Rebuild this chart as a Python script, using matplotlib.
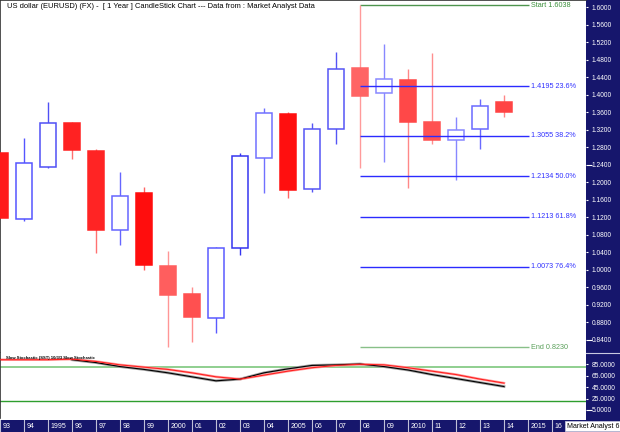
import matplotlib
matplotlib.use('Agg')
import matplotlib.pyplot as plt
from matplotlib.patches import Rectangle
from matplotlib.lines import Line2D
from matplotlib.colors import to_rgb

plt.rcParams['font.family'] = ['Liberation Sans', 'DejaVu Sans']

# yearly EURUSD candles
years = list(range(1993, 2015))
opens = [1.267, 1.116, 1.235, 1.336, 1.272, 1.091, 1.175, 1.009, 0.945, 0.889, 1.049,
         1.255, 1.355, 1.185, 1.321, 1.460, 1.403, 1.433, 1.338, 1.296, 1.321, 1.382]
highs = [1.267, 1.300, 1.382, 1.337, 1.276, 1.224, 1.190, 1.042, 0.960, 1.051, 1.266,
         1.369, 1.360, 1.336, 1.498, 1.6038, 1.5155, 1.458, 1.496, 1.349, 1.390, 1.399]
lows = [1.118, 1.111, 1.232, 1.252, 1.039, 1.057, 1.000, 0.824, 0.836, 0.856, 1.034,
        1.175, 1.163, 1.178, 1.287, 1.233, 1.245, 1.1875, 1.2865, 1.205, 1.275, 1.348]
closes = [1.118, 1.2445, 1.3345, 1.2735, 1.091, 1.1685, 1.010, 0.942, 0.8915, 1.0505, 1.2605,
          1.357, 1.182, 1.321, 1.458, 1.396, 1.435, 1.337, 1.296, 1.319, 1.375, 1.360]
candle_colors = ['#FF1A1A', '#5555FF', '#5050F5', '#FF2222', '#FF2424', '#6666FF', '#FF0D0D',
                 '#FF5E5E', '#FF5050', '#5A5AFF', '#3535F0', '#7070FF', '#FF0F0F', '#5555F5',
                 '#5555F5', '#FF6464', '#8888FF', '#FF4848', '#FF5252', '#8888FF', '#6A6AFF',
                 '#FF4444']

# Fibonacci retracement from the 2008 high to the 2000 low
fib_start_year = 2008
fib_start = 1.6038
fib_end = 0.8230
fib_levels = [1.4195, 1.3055, 1.2134, 1.1213, 1.0073]
fib_pcts = ['23.6%', '38.2%', '50.0%', '61.8%', '76.4%']

# slow stochastic
stoch_d_years = list(range(1993, 2015))
stoch_d = [93, 93, 93, 94, 90, 84, 80, 76, 70, 63, 59, 66, 73, 79, 83, 85, 84, 79, 73, 67, 59, 52]
stoch_k_years = list(range(1996, 2015))
stoch_k = [93, 88, 81, 76, 70, 63, 56, 59, 70, 77, 83, 84, 85.5, 81, 75, 67, 60, 53, 46]

price_ticks = [1.60 - 0.04 * i for i in range(20)]
stoch_ticks = [85, 65, 45, 25, 5]
year_labels = ['93', '94', '1995', '96', '97', '98', '99', '2000', '01', '02', '03', '04',
               '2005', '06', '07', '08', '09', '2010', '11', '12', '13', '14', '2015', '16']

W, H = 620, 432
NAVY = '#16166C'
px = 24.0  # pixels per year

fig = plt.figure(figsize=(W / 100, H / 100), dpi=100)
fig.patch.set_facecolor('white')
fig.patches.append(Rectangle((586 / W, 0), 1 - 586 / W, 1, transform=fig.transFigure,
                             facecolor=NAVY, edgecolor='none', zorder=-5))

x0 = years[0]
x1 = x0 + 586 / px

# ---- main candle panel
ax = fig.add_axes([0, 1 - 352 / H, 586 / W, 352 / H])
ax.set_xlim(x0, x1)
ax.set_ylim(0.8123, 1.616)

def lighten(c, f):
    r, g, b = to_rgb(c)
    return (r + (1 - r) * f, g + (1 - g) * f, b + (1 - b) * f)

up = [c >= o for o, c in zip(opens, closes)]
wick_cols = [col if u else lighten(col, 0.35) for col, u in zip(candle_colors, up)]
faces = ['white' if u else col for col, u in zip(candle_colors, up)]
ax.vlines(years, lows, highs, colors=wick_cols, lw=1.0, zorder=2)
ax.bar(years, [c - o for o, c in zip(opens, closes)], bottom=opens, width=0.66,
       color=faces, edgecolor=candle_colors, lw=1.1, zorder=3)

line_end = 2015.05
ax.hlines(fib_levels, fib_start_year, line_end, colors='#2B2BFF', lw=1.0, zorder=4)
ax.hlines([fib_start], fib_start_year, line_end, colors='#4E944E', lw=1.0, zorder=1)
ax.hlines([fib_end], fib_start_year, line_end, colors='#88C088', lw=1.0, zorder=1)
for v, p in zip(fib_levels, fib_pcts):
    ax.text(line_end + 0.08, v, f'{v:.4f} {p}', color='#3030FF', fontsize=5.2, va='center')
ax.text(line_end + 0.08, fib_start, f'Start {fib_start:.4f}', color='#3C903C', fontsize=5.2, va='center')
ax.text(line_end + 0.08, fib_end, f'End {fib_end:.4f}', color='#5AA05A', fontsize=5.2, va='center')

ax.yaxis.tick_right()
ax.set_yticks(price_ticks)
ax.set_yticklabels([f'{t:.4f}' for t in price_ticks])
ax.tick_params(axis='y', colors='white', labelsize=4.8, length=1.5, pad=2.5, width=0.8)
ax.set_xticks([])
for t in ax.yaxis.get_major_ticks():
    if abs(t.get_loc() - 1.24) < 1e-6 or abs(t.get_loc() - 0.84) < 1e-6:
        t.tick2line.set_markersize(4.5)
for s in ['left', 'top']:
    ax.spines[s].set_color('#333333')
    ax.spines[s].set_linewidth(1.2)
for s in ['right', 'bottom']:
    ax.spines[s].set_visible(False)

fig.text(7 / W, 1 - 7 / H,
         'US dollar (EURUSD) (FX) -  [ 1 Year ] CandleStick Chart --- Data from : Market Analyst Data',
         fontsize=5.4, va='center', ha='left')

# ---- stochastic panel
ax2 = fig.add_axes([0, 1 - 418 / H, 586 / W, 65 / H])
ax2.set_xlim(x0, x1)
ax2.set_ylim(-9.2, 104.8)
ax2.axhline(80, color='#8FCF8F', lw=1.4, zorder=1)
ax2.axhline(20, color='#2E9E2E', lw=1.0, zorder=1)
ax2.plot(stoch_k_years, stoch_k, color='#A0A0A0', lw=2.0, zorder=2)
ax2.plot(stoch_d_years, stoch_d, color='#FFA0A0', lw=1.8, zorder=2)
ax2.plot(stoch_k_years, stoch_k, color='black', lw=0.8, zorder=3)
ax2.plot(stoch_d_years, stoch_d, color='#FF2020', lw=0.8, zorder=3)
ax2.text(6 / 586, 0.93, 'Slow Stochastic (SST) 10/3/3 Slow Stochastic', transform=ax2.transAxes,
         fontsize=3, fontweight='bold', va='center', ha='left')
ax2.yaxis.tick_right()
ax2.set_yticks(stoch_ticks)
ax2.set_yticklabels([f'{t:.4f}' for t in stoch_ticks])
ax2.tick_params(axis='y', colors='white', labelsize=4.8, length=1.5, pad=2.5, width=0.8)
ax2.yaxis.get_major_ticks()[-1].tick2line.set_markersize(4.5)
ax2.set_xticks([])
ax2.spines['left'].set_color('#333333')
ax2.spines['left'].set_linewidth(1.2)
for s in ['right', 'top', 'bottom']:
    ax2.spines[s].set_visible(False)
fig.add_artist(Line2D([586 / W, 1], [1 - 353 / H, 1 - 353 / H], color='#C8C8E0', lw=0.8))

# ---- year band at the bottom
axb = fig.add_axes([0, 0, 1, 12 / H])
axb.set_facecolor(NAVY)
axb.set_xlim(x0, x0 + W / px)
axb.set_ylim(0, 1)
axb.set_xticks([])
axb.set_yticks([])
for s in axb.spines.values():
    s.set_visible(False)
for i, lab in enumerate(year_labels):
    axb.axvline(x0 + i, color='#C0C0D8', lw=0.8)
    axb.text(x0 + i + 0.1, 0.45, lab, color='white', fontsize=5, va='center', ha='left')
axb.add_patch(Rectangle((x0 + 565 / px, 0.05), 55 / px, 0.9, facecolor='white',
                        edgecolor='#C0C0D8', lw=0.6, zorder=5))
axb.text(x0 + 567 / px, 0.45, 'Market Analyst 6', color='black', fontsize=5,
         va='center', ha='left', zorder=6, clip_on=True)

fig.savefig('out.png', dpi=100)
